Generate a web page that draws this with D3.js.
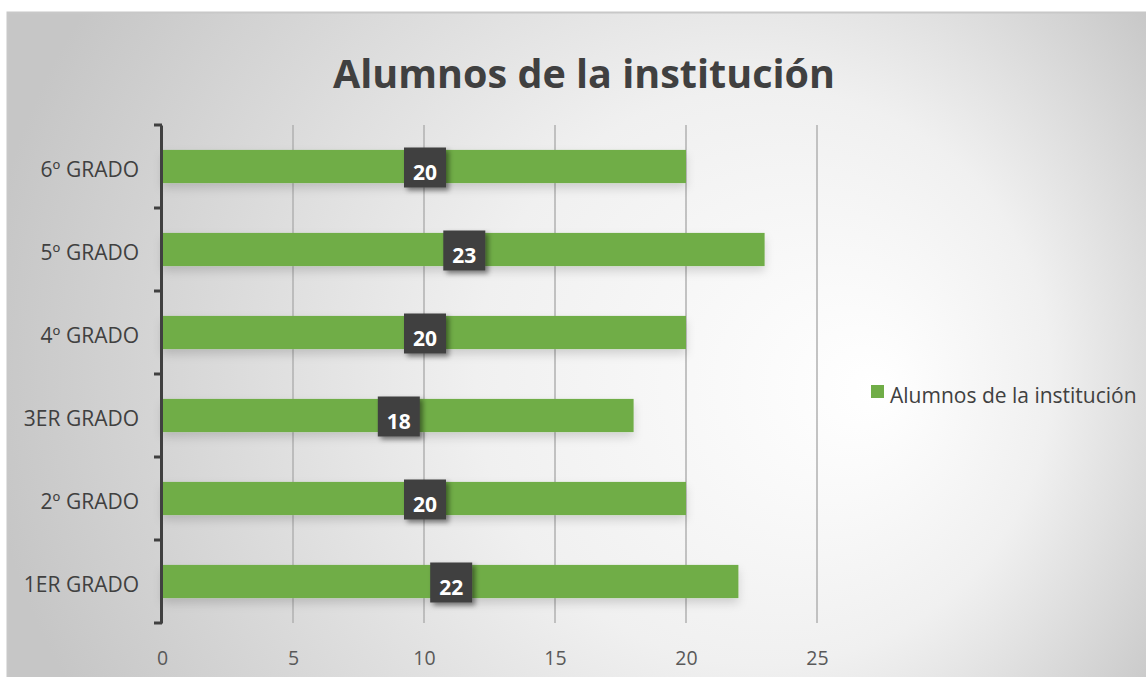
<html>
<head>
  <title>Alumnos de la institución</title>
  <script src="https://d3js.org/d3.v7.min.js"></script>
</head>
<body style="margin:0; background:#ffffff;">
<div id="chart"></div>
<script>
// chart data
var grados = ['1ER GRADO', '2º GRADO', '3ER GRADO', '4º GRADO', '5º GRADO', '6º GRADO'];
var alumnos = [22, 20, 18, 20, 23, 20];
var xTicks = [0, 5, 10, 15, 20, 25];
var titulo = 'Alumnos de la institución';
var serie = 'Alumnos de la institución';

var W = 1146, H = 677;
var mLeft = 162, mTop = 125, plotW = 655, plotH = 498;
var font = "'Open Sans', sans-serif";

var svg = d3.select('#chart').append('svg')
    .attr('width', W).attr('height', H);

var defs = svg.append('defs');
var grad = defs.append('radialGradient')
    .attr('id', 'bg')
    .attr('gradientUnits', 'userSpaceOnUse')
    .attr('cx', 620).attr('cy', 360).attr('r', 640)
    .attr('fx', 880).attr('fy', 390);
grad.append('stop').attr('offset', '0%').attr('stop-color', '#ffffff');
grad.append('stop').attr('offset', '45%').attr('stop-color', '#f0f0f0');
grad.append('stop').attr('offset', '100%').attr('stop-color', '#c6c6c6');

var shadow = defs.append('filter').attr('id', 'shadow')
    .attr('x', '-30%').attr('y', '-30%').attr('width', '160%').attr('height', '160%');
shadow.append('feDropShadow').attr('dx', 3).attr('dy', 3)
    .attr('stdDeviation', 2.5).attr('flood-color', '#000').attr('flood-opacity', 0.45);

var barShadow = defs.append('filter').attr('id', 'barshadow')
    .attr('x', '-5%').attr('y', '-50%').attr('width', '110%').attr('height', '200%');
barShadow.append('feDropShadow').attr('dx', 0).attr('dy', 5)
    .attr('stdDeviation', 5).attr('flood-color', '#000').attr('flood-opacity', 0.15);

// background
svg.append('rect')
    .attr('x', 7.5).attr('y', 12.5).attr('width', W).attr('height', H)
    .attr('fill', 'url(#bg)').attr('stroke', '#c8c8c8').attr('stroke-width', 2);

// title
svg.append('text')
    .attr('x', 584).attr('y', 88)
    .attr('text-anchor', 'middle')
    .style('font-family', font).style('font-weight', 'bold')
    .style('font-size', '39.5px').style('fill', '#404040')
    .text(titulo);

var x = d3.scaleLinear().domain([0, 25]).range([mLeft, mLeft + plotW]);
var y = d3.scaleBand().domain(grados.slice().reverse())
    .range([mTop, mTop + plotH]).paddingInner(0.6).paddingOuter(0.3);

// gridlines
svg.append('g').selectAll('line')
    .data(xTicks.filter(function(d) { return d > 0; }))
  .enter().append('line')
    .attr('x1', function(d) { return x(d); }).attr('x2', function(d) { return x(d); })
    .attr('y1', mTop).attr('y2', mTop + plotH)
    .attr('stroke', '#b0b0b0').attr('stroke-width', 1.5);

// x axis labels
var xAxis = svg.append('g')
    .attr('transform', 'translate(0,' + (mTop + plotH) + ')')
    .call(d3.axisBottom(x).tickValues(xTicks).tickSize(0).tickPadding(28));
xAxis.select('.domain').remove();
xAxis.selectAll('text')
    .style('font-family', font).style('font-size', '19.5px').attr('fill', '#595959');

// bars
var data = grados.map(function(g, i) { return {g: g, v: alumnos[i]}; });
svg.append('g').selectAll('rect')
    .data(data)
  .enter().append('rect')
    .attr('x', x(0))
    .attr('y', function(d) { return y(d.g); })
    .attr('width', function(d) { return x(d.v) - x(0); })
    .attr('height', y.bandwidth())
    .attr('fill', '#70ad47')
    .attr('filter', 'url(#barshadow)');

// y axis
var yBand = d3.scaleBand().domain(grados.slice().reverse()).range([mTop, mTop + plotH]);
var yAxis = svg.append('g')
    .attr('transform', 'translate(' + (mLeft - 1) + ',0)')
    .call(d3.axisLeft(yBand).tickSize(0).tickPadding(22));
yAxis.select('.domain').attr('stroke', '#404040').attr('stroke-width', 3);
yAxis.selectAll('text')
    .attr('dy', '0.5em')
    .style('font-family', font).style('font-size', '21px').attr('fill', '#404040');
// tick marks between categories
svg.append('g').selectAll('line')
    .data(d3.range(grados.length + 1))
  .enter().append('line')
    .attr('x1', mLeft - 8).attr('x2', mLeft)
    .attr('y1', function(i) { return mTop + i * yBand.step(); })
    .attr('y2', function(i) { return mTop + i * yBand.step(); })
    .attr('stroke', '#404040').attr('stroke-width', 3);

// data labels
var lbl = svg.append('g').selectAll('g')
    .data(data)
  .enter().append('g')
    .attr('transform', function(d) {
      return 'translate(' + (x(d.v / 2) + 1) + ',' + (y(d.g) + y.bandwidth() / 2 + 1) + ')';
    });
lbl.append('rect')
    .attr('x', -21).attr('y', -20).attr('width', 42).attr('height', 40)
    .attr('fill', '#404040').attr('filter', 'url(#shadow)');
lbl.append('text')
    .attr('text-anchor', 'middle').attr('y', 12)
    .style('font-family', font).style('font-weight', 'bold')
    .style('font-size', '21px').style('fill', '#ffffff')
    .text(function(d) { return d.v; });

// legend
var leg = svg.append('g').attr('transform', 'translate(871,385)');
leg.append('rect').attr('width', 13).attr('height', 13).attr('fill', '#70ad47');
leg.append('text')
    .attr('x', 19).attr('y', 18)
    .style('font-family', font).style('font-size', '21px').style('fill', '#404040')
    .text(serie);
</script>
</body>
</html>
